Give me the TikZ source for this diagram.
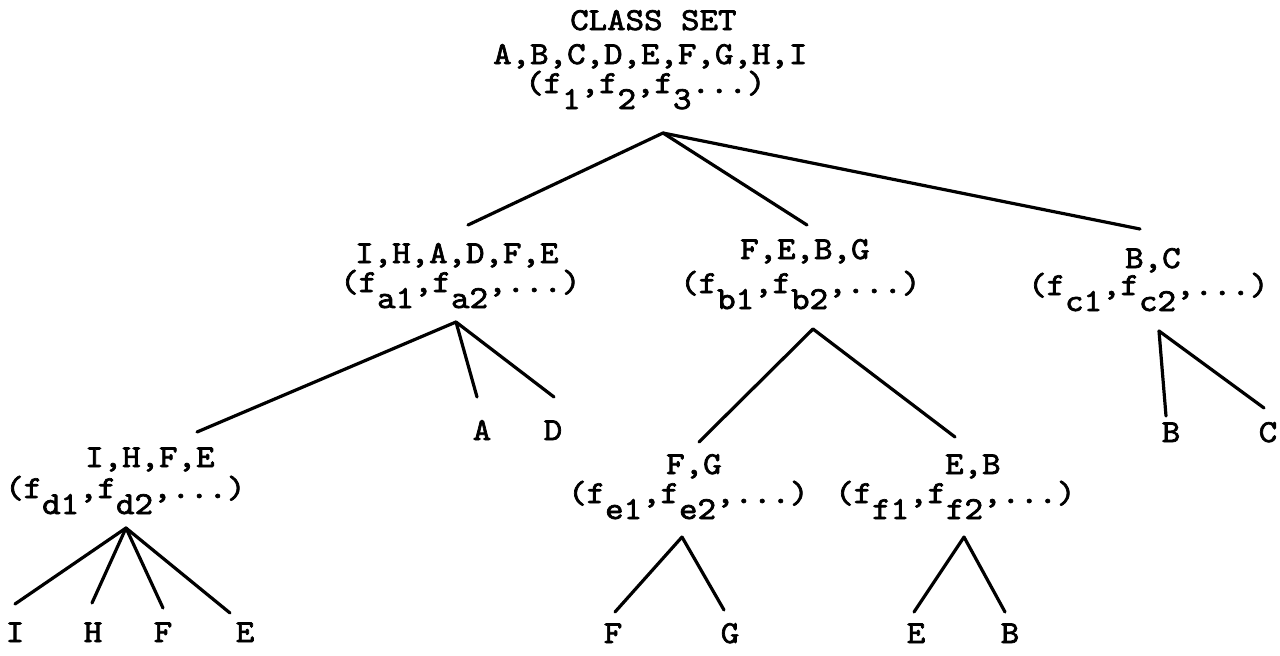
\documentclass[tikz,border=0pt]{standalone}
\usepackage{fontspec}
\setmonofont[Extension=.otf, FakeBold=2.2, FakeStretch=1.1]{lmmono10-regular}
\newcommand\sbs[1]{\raisebox{-16pt}[0pt][0pt]{#1}}
\tikzset{
  tw/.style={inner sep=0pt, font=\fontsize{32}{34}\selectfont\ttfamily},
  lbl/.style={tw, anchor=base west},
  leaf/.style={tw, anchor=base},
  br/.style={line width=3.2pt, line cap=round, line join=round}
}
\begin{document}
\begin{tikzpicture}[x=1pt,y=-1pt]
\useasboundingbox (0,0) rectangle (1280,656);
% labels
\node[lbl] (r1) at (570,30) {CLASS SET};
\node[lbl] (r2) at (493,64) {A,B,C,D,E,F,G,H,I};
\node[lbl] (r3) at (525,93) {(f\sbs{1},f\sbs{2},f\sbs{3}...)};
\node[lbl] (a1) at (355,263) {I,H,A,D,F,E};
\node[lbl] (a2) at (340,292) {(f\sbs{a1},f\sbs{a2},...)};
\node[lbl] (b1) at (740,259) {F,E,B,G};
\node[lbl] (b2) at (680,293) {(f\sbs{b1},f\sbs{b2},...)};
\node[lbl] (c1) at (1125,268) {B,C};
\node[lbl] (c2) at (1028,295) {(f\sbs{c1},f\sbs{c2},...)};
\node[lbl] (d1) at (85,467) {I,H,F,E};
\node[lbl] (d2) at (5,498) {(f\sbs{d1},f\sbs{d2},...)};
\node[lbl] (e1) at (666,474) {F,G};
\node[lbl] (e2) at (568,503) {(f\sbs{e1},f\sbs{e2},...)};
\node[lbl] (f1) at (945,474) {E,B};
\node[lbl] (f2) at (835,503) {(f\sbs{f1},f\sbs{f2},...)};
% leaves
\node[leaf] (lA) at (482,440) {A};
\node[leaf] (lD) at (553,440) {D};
\node[leaf] (lB1) at (1171,442) {B};
\node[leaf] (lC) at (1268,442) {C};
\node[leaf] (lI) at (15,642) {I};
\node[leaf] (lH) at (93,642) {H};
\node[leaf] (lF1) at (163,642) {F};
\node[leaf] (lE1) at (245,642) {E};
\node[leaf] (lF2) at (613,643) {F};
\node[leaf] (lG) at (730,643) {G};
\node[leaf] (lE2) at (916,643) {E};
\node[leaf] (lB2) at (1010,643) {B};
% connector end points
\coordinate (rT) at (663,133);
\coordinate (aH) at (468,225);
\coordinate (bH) at (807,225);
\coordinate (cH) at (1140,229);
\coordinate (aT) at (456,322);
\coordinate (dH) at (197,432);
\coordinate (aA) at (477,397);
\coordinate (aD) at (554,397);
\coordinate (bT) at (813,329);
\coordinate (eH) at (699,442);
\coordinate (fH) at (955,437);
\coordinate (cT) at (1159,331);
\coordinate (cB) at (1166,416);
\coordinate (cC) at (1264,408);
\coordinate (dT) at (126,528);
\coordinate (dI) at (15,604);
\coordinate (dHh) at (92,603);
\coordinate (dF) at (163,608);
\coordinate (dE) at (230,613);
\coordinate (eT) at (682,537);
\coordinate (eF) at (615,612);
\coordinate (eG) at (724,610);
\coordinate (fT) at (964,537);
\coordinate (fE) at (914,612);
\coordinate (fB) at (1005,612);
% connectors
\draw[br] (rT) -- (aH);
\draw[br] (rT) -- (bH);
\draw[br] (rT) -- (cH);
\draw[br] (aT) -- (dH);
\draw[br] (aT) -- (aA);
\draw[br] (aT) -- (aD);
\draw[br] (bT) -- (eH);
\draw[br] (bT) -- (fH);
\draw[br] (cT) -- (cB);
\draw[br] (cT) -- (cC);
\draw[br] (dT) -- (dI);
\draw[br] (dT) -- (dHh);
\draw[br] (dT) -- (dF);
\draw[br] (dT) -- (dE);
\draw[br] (eT) -- (eF);
\draw[br] (eT) -- (eG);
\draw[br] (fT) -- (fE);
\draw[br] (fT) -- (fB);
\end{tikzpicture}
\end{document}
